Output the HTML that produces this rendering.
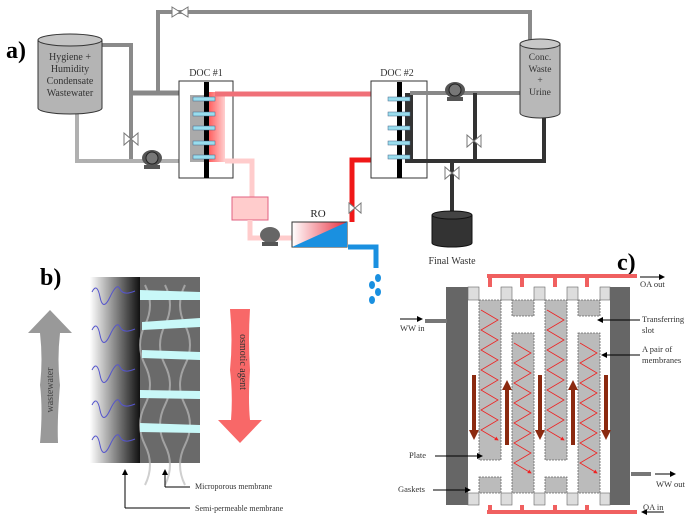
<!DOCTYPE html>
<html><head><meta charset="utf-8"><style>body{margin:0;background:#fff}svg{display:block}text{font-family:"Liberation Serif",serif}</style></head><body>
<svg width="692" height="526" viewBox="0 0 692 526" xmlns="http://www.w3.org/2000/svg">
<defs>
<linearGradient id="gb" x1="0" x2="1"><stop offset="0" stop-color="#fff"/><stop offset="1" stop-color="#111"/></linearGradient>
<linearGradient id="ro" x1="0" x2="1"><stop offset="0" stop-color="#fff"/><stop offset="1" stop-color="#e83040"/></linearGradient>
<linearGradient id="pk" x1="0" x2="1"><stop offset="0" stop-color="#ff6060"/><stop offset="1" stop-color="#ffd0d0"/></linearGradient>
<marker id="ar" markerWidth="6" markerHeight="6" refX="5" refY="3" orient="auto"><path d="M0,0L6,3L0,6z" fill="#000"/></marker>
<marker id="rr" markerWidth="5" markerHeight="5" refX="4" refY="2.5" orient="auto"><path d="M0,0L5,2.5L0,5z" fill="#e22"/></marker>
</defs>
<text x="6" y="58" font-size="24" font-weight="bold">a)</text>
<path d="M158,93 V12 H530 V40" fill="none" stroke="#8a8a8a" stroke-width="4"/>
<path d="M172,7 L180,12 L172,17z M188,7 L180,12 L188,17z" fill="#fff" stroke="#777"/>
<path d="M102,45 H131 V161" fill="none" stroke="#8a8a8a" stroke-width="4"/>
<path d="M131,93 H200" fill="none" stroke="#888" stroke-width="5"/>
<path d="M77,110 V161 H200" fill="none" stroke="#b0b0b0" stroke-width="4"/>
<path d="M124,133 L131,139 L124,145z M138,133 L131,139 L138,145z" fill="#fff" stroke="#777"/>
<ellipse cx="152" cy="158" rx="10" ry="8" fill="#555"/><circle cx="152" cy="158" r="6" fill="#777" stroke="#222"/><rect x="144" y="165" width="16" height="4" fill="#555"/>
<path d="M38,40 V108 A32,6 0 0 0 102,108 V40" fill="#b4b4b4" stroke="#333"/>
<ellipse cx="70" cy="40" rx="32" ry="6" fill="#c4c4c4" stroke="#333"/>
<g font-size="10" text-anchor="middle" fill="#333"><text x="70" y="60">Hygiene +</text><text x="70" y="72">Humidity</text><text x="70" y="84">Condensate</text><text x="70" y="96">Wastewater</text></g>
<rect x="179" y="81" width="54" height="97" fill="#fff" stroke="#333"/>
<text x="206" y="76" font-size="10" text-anchor="middle" fill="#333">DOC #1</text>
<rect x="190" y="95" width="15" height="67" fill="#aaa"/>
<rect x="209" y="92" width="16" height="70" fill="url(#pk)"/>
<rect x="204" y="82" width="5" height="96" fill="#000"/>
<g fill="#9de" stroke="#468" stroke-width=".5"><rect x="193" y="97" width="22" height="4"/><rect x="193" y="112" width="22" height="4"/><rect x="193" y="126" width="22" height="4"/><rect x="193" y="141" width="22" height="4"/><rect x="193" y="155" width="22" height="4"/></g>
<path d="M215,94 H390" stroke="#f07078" stroke-width="5"/>
<path d="M225,161 H252 V197" fill="none" stroke="#fcc" stroke-width="5"/>
<rect x="232" y="197" width="36" height="23" fill="#fcc" stroke="#e06080"/>
<path d="M250,220 V238 H292" fill="none" stroke="#fcc" stroke-width="5"/>
<ellipse cx="270" cy="235" rx="10" ry="8" fill="#666"/><rect x="262" y="242" width="16" height="4" fill="#555"/>
<rect x="292" y="222" width="55" height="25" fill="url(#ro)" stroke="#333"/>
<path d="M292,247 L347,222 V247z" fill="#1a90e0"/>
<text x="318" y="217" font-size="11" text-anchor="middle" fill="#222">RO</text>
<path d="M352,222 V160 H392" fill="none" stroke="#f01818" stroke-width="5"/>
<rect x="378" y="94" width="12" height="68" fill="url(#pk)" transform="rotate(180 384 128)"/>
<path d="M348,247 H376 V268" fill="none" stroke="#1a90e0" stroke-width="5"/>
<g fill="#1a90e0"><ellipse cx="378" cy="278" rx="3" ry="4"/><ellipse cx="372" cy="285" rx="3" ry="4"/><ellipse cx="378" cy="292" rx="3" ry="4"/><ellipse cx="372" cy="300" rx="3" ry="4"/></g>
<path d="M349,203 L355,208 L349,213z M361,203 L355,208 L361,213z" fill="#fff" stroke="#777"/>
<rect x="371" y="81" width="56" height="97" fill="#fff" stroke="#333"/>
<text x="397" y="76" font-size="10" text-anchor="middle" fill="#333">DOC #2</text>
<rect x="405" y="93" width="8" height="70" fill="#333"/>
<rect x="397" y="82" width="5" height="96" fill="#000"/>
<g fill="#9de" stroke="#468" stroke-width=".5"><rect x="388" y="97" width="22" height="4"/><rect x="388" y="112" width="22" height="4"/><rect x="388" y="126" width="22" height="4"/><rect x="388" y="141" width="22" height="4"/><rect x="388" y="155" width="22" height="4"/></g>
<path d="M410,93 H520" stroke="#888" stroke-width="4"/>
<path d="M475,93 V161" stroke="#333" stroke-width="4"/>
<path d="M410,161 H544 V117" fill="none" stroke="#333" stroke-width="4"/>
<path d="M452,161 V215" stroke="#333" stroke-width="4"/>
<ellipse cx="455" cy="90" rx="10" ry="8" fill="#555"/><circle cx="455" cy="90" r="6" fill="#777" stroke="#222"/><rect x="447" y="97" width="16" height="4" fill="#555"/>
<path d="M467,135 L474,141 L467,147z M481,135 L474,141 L481,147z" fill="#fff" stroke="#777"/>
<path d="M445,167 L452,173 L445,179z M459,167 L452,173 L459,179z" fill="#fff" stroke="#777"/>
<path d="M432,215 V243 A20,4 0 0 0 472,243 V215" fill="#333" stroke="#111"/>
<ellipse cx="452" cy="215" rx="20" ry="4" fill="#444" stroke="#111"/>
<text x="452" y="264" font-size="10" text-anchor="middle" fill="#333">Final Waste</text>
<path d="M520,44 V113 A20,5 0 0 0 560,113 V44" fill="#b8b8b8" stroke="#333"/>
<ellipse cx="540" cy="44" rx="20" ry="5" fill="#c8c8c8" stroke="#333"/>
<g font-size="9.5" text-anchor="middle" fill="#333"><text x="540" y="60">Conc.</text><text x="540" y="72">Waste</text><text x="540" y="83">+</text><text x="540" y="95">Urine</text></g>
<text x="40" y="285" font-size="24" font-weight="bold">b)</text>
<rect x="90" y="277" width="50" height="186" fill="url(#gb)"/>
<rect x="140" y="277" width="60" height="186" fill="#6a6a6a"/>
<g stroke="#bbb" stroke-width="2" fill="none" opacity=".7"><path d="M145,285 q10,20 0,40 t0,40 t0,40 t0,40 t0,40"/><path d="M165,285 q10,20 0,40 t0,40 t0,40 t0,40 t0,40"/><path d="M185,285 q-10,20 0,40 t0,40 t0,40 t0,40 t0,40"/></g>
<g fill="#c8f8f8"><path d="M140,290 L200,292 V300 L140,300z"/><path d="M142,322 L200,318 V327 L142,330z"/><path d="M142,350 L200,352 V360 L142,358z"/><path d="M140,390 L200,391 V399 L140,398z"/><path d="M140,423 L200,425 V433 L140,432z"/></g>
<g stroke="#55c" fill="none" stroke-width="1"><path d="M92,292 q5,-10 8,5 t10,0 t10,-8 t15,2"/><path d="M92,330 q5,-10 8,5 t10,0 t10,-8 t15,2"/><path d="M92,370 q5,-10 8,5 t10,0 t10,-8 t15,2"/><path d="M92,405 q5,-10 8,5 t10,0 t10,-8 t15,2"/><path d="M92,440 q5,-10 8,5 t10,0 t10,-8 t15,2"/></g>
<path d="M28,333 L50,310 L72,333 H60 Q57,360 60,385 Q57,420 58,443 H40 Q43,410 40,385 Q43,360 40,333z" fill="#999"/>
<text transform="translate(53,390) rotate(-90)" font-size="10" text-anchor="middle" fill="#444">wastewater</text>
<path d="M230,309 H250 Q248,340 250,370 Q248,400 250,420 H262 L240,443 L218,420 H231 Q233,395 230,370 Q233,340 230,309z" fill="#f86868"/>
<text transform="translate(240,362) rotate(90)" font-size="10" text-anchor="middle" fill="#333">osmotic agent</text>
<path d="M165,487 V470" stroke="#000" marker-end="url(#ar)"/><path d="M165,487 H190" stroke="#000"/>
<path d="M125,508 V470" stroke="#000" marker-end="url(#ar)"/><path d="M125,508 H190" stroke="#000"/>
<text x="195" y="489" font-size="8" fill="#333">Microporous membrane</text>
<text x="195" y="511" font-size="8" fill="#333">Semi-permeable membrane</text>
<text x="617" y="270" font-size="24" font-weight="bold">c)</text>
<path d="M487,276 H637 M490,276 V287 M522,276 V287 M555,276 V287 M587,276 V287" stroke="#f06060" stroke-width="4" fill="none"/>
<path d="M487,512 H637 M490,512 V505 M522,512 V505 M555,512 V505 M587,512 V505" stroke="#f06060" stroke-width="4" fill="none"/>
<rect x="446" y="287" width="22" height="218" fill="#666"/>
<rect x="610" y="287" width="20" height="218" fill="#666"/>
<rect x="468" y="287" width="142" height="218" fill="#fff"/>
<g fill="#bbb" stroke="#666" stroke-dasharray="2,1" stroke-width=".8">
<rect x="479" y="300" width="22" height="160"/><rect x="512" y="333" width="22" height="160"/><rect x="545" y="300" width="22" height="160"/><rect x="578" y="333" width="22" height="160"/>
<rect x="479" y="477" width="22" height="16"/><rect x="545" y="477" width="22" height="16"/>
<rect x="512" y="300" width="22" height="16"/><rect x="578" y="300" width="22" height="16"/>
</g>
<g fill="#ddd" stroke="#666" stroke-width=".6"><rect x="468" y="287" width="11" height="13"/><rect x="501" y="287" width="11" height="13"/><rect x="534" y="287" width="11" height="13"/><rect x="567" y="287" width="11" height="13"/><rect x="600" y="287" width="10" height="13"/><rect x="468" y="493" width="11" height="12"/><rect x="501" y="493" width="11" height="12"/><rect x="534" y="493" width="11" height="12"/><rect x="567" y="493" width="11" height="12"/><rect x="600" y="493" width="10" height="12"/></g>
<g stroke="#e22" stroke-width=".8" fill="none" marker-end="url(#rr)">
<path d="M481,310 L498,320 L481,330 L498,340 L481,350 L498,360 L481,370 L498,380 L481,390 L498,400 L481,410 L498,420 L481,430 L498,440"/>
<path d="M514,343 L531,353 L514,363 L531,373 L514,383 L531,393 L514,403 L531,413 L514,423 L531,433 L514,443 L531,453 L514,463 L531,473"/>
<path d="M547,310 L564,320 L547,330 L564,340 L547,350 L564,360 L547,370 L564,380 L547,390 L564,400 L547,410 L564,420 L547,430 L564,440"/>
<path d="M580,343 L597,353 L580,363 L597,373 L580,383 L597,393 L580,403 L597,413 L580,423 L597,433 L580,443 L597,453 L580,463 L597,473"/>
</g>
<g fill="#8b2a10"><path d="M472,375 h4 v55 h3 l-5,10 l-5,-10 h3z"/><path d="M505,445 h4 v-55 h3 l-5,-10 l-5,10 h3z"/><path d="M538,375 h4 v55 h3 l-5,10 l-5,-10 h3z"/><path d="M571,445 h4 v-55 h3 l-5,-10 l-5,10 h3z"/><path d="M604,375 h4 v55 h3 l-5,10 l-5,-10 h3z"/></g>
<rect x="425" y="319" width="22" height="4" fill="#777"/><rect x="631" y="472" width="20" height="4" fill="#777"/>
<g stroke="#000" fill="none"><path d="M400,319 H422" marker-end="url(#ar)"/><path d="M640,277 H664" marker-end="url(#ar)"/><path d="M655,474 H675" marker-end="url(#ar)"/><path d="M664,512 H642" marker-end="url(#ar)"/><path d="M640,320 H598" marker-end="url(#ar)"/><path d="M640,355 H602" marker-end="url(#ar)"/><path d="M435,456 H482" marker-end="url(#ar)"/><path d="M433,490 H470" marker-end="url(#ar)"/></g>
<g font-size="8.5" fill="#333"><text x="640" y="287">OA out</text><text x="400" y="331">WW in</text><text x="642" y="322">Transferring</text><text x="642" y="333">slot</text><text x="642" y="352">A pair of</text><text x="642" y="363">membranes</text><text x="409" y="458">Plate</text><text x="656" y="487">WW out</text><text x="398" y="492">Gaskets</text><text x="643" y="510">OA in</text></g>
</svg>
</body></html>
